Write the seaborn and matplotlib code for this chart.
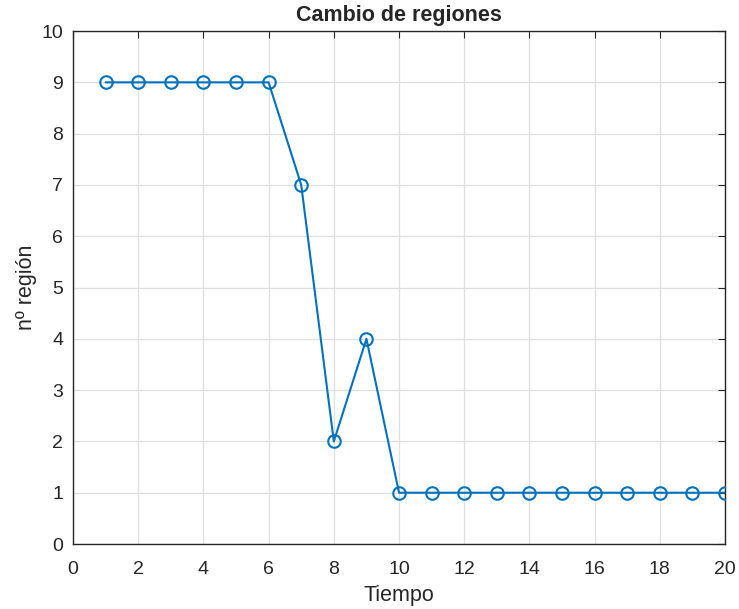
import matplotlib
matplotlib.use("Agg")
import matplotlib.pyplot as plt
import seaborn as sns
import pandas as pd

tiempo = list(range(1, 21))
region = [9, 9, 9, 9, 9, 9, 7, 2, 4, 1, 1, 1, 1, 1, 1, 1, 1, 1, 1, 1]
x_ticks = list(range(0, 21, 2))
y_ticks = list(range(0, 11))

df = pd.DataFrame({"Tiempo": tiempo, "region": region})

sns.set_style("white")
plt.rcParams["font.family"] = ["Liberation Sans", "DejaVu Sans"]

fig = plt.figure(figsize=(7.39, 6.09), dpi=100)
ax = fig.add_axes([0.0988, 0.1067, 0.8823, 0.8423])

sns.lineplot(data=df, x="Tiempo", y="region", ax=ax, color="#0072BD",
             marker="o", markersize=9, markerfacecolor="none",
             markeredgecolor="#0072BD", markeredgewidth=1.5, linewidth=1.5,
             zorder=3)

ax.set_xlim(0, 20)
ax.set_ylim(0, 10)
ax.set_xticks(x_ticks)
ax.set_yticks(y_ticks)
ax.grid(True, color="#dfdfdf", linewidth=0.9)
ax.set_axisbelow(True)
for s in ax.spines.values():
    s.set_color("#262626")
    s.set_linewidth(1.0)
ax.tick_params(direction="in", length=5, width=0.8, colors="#262626",
               labelsize=14, top=True, right=True, pad=7)
ax.tick_params(axis="x", pad=12)
ax.set_xlabel("Tiempo", fontsize=15.5, color="#262626", labelpad=5)
ax.set_ylabel("nº región", fontsize=15.5, color="#262626", labelpad=3)
ax.set_title("Cambio de regiones", fontsize=15.5, fontweight="bold", pad=7)

fig.savefig("out.png", dpi=100)
